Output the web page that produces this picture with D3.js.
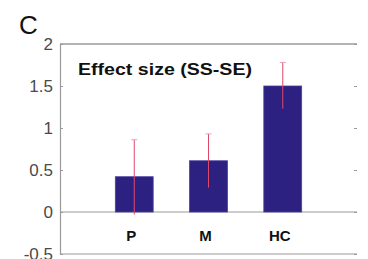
<!DOCTYPE html>
<html>
<head>
<meta charset="utf-8">
<script src="https://cdn.jsdelivr.net/npm/d3@7"></script>
<style>
  body { margin: 0; background: #fff; }
  svg { display: block; }
</style>
</head>
<body>
<script>
// data
const groups = ['P', 'M', 'HC'];
const effect = [0.42, 0.61, 1.50];
const errLow = [-0.03, 0.29, 1.23];
const errHigh = [0.86, 0.93, 1.78];
const yTicks = [-0.5, 0, 0.5, 1, 1.5, 2];

const w = 368;
const h = 259;
const padL = 60, padR = 357, padT = 44, padB = 254;

const svg = d3.select('body')
  .append('svg')
  .attr('width', w)
  .attr('height', h)
  .style('font-family', 'Arial, "Liberation Sans", sans-serif');

const xScale = d3.scaleLinear().domain([0, 4]).range([padL, padR]);
const yScale = d3.scaleLinear().domain([-0.5, 2]).range([padB, padT]);
const barW = xScale(0.51) - xScale(0);

// panel letter
svg.append('text')
  .attr('x', 19)
  .attr('y', 34)
  .attr('font-size', 26)
  .attr('fill', '#111')
  .text('C');

// frame: top and bottom lines
const axisCol = '#9a9a9a';
svg.append('line')
  .attr('x1', padL).attr('x2', padR)
  .attr('y1', padT).attr('y2', padT)
  .attr('stroke', axisCol).attr('stroke-width', 1.5);
svg.append('line')
  .attr('x1', padL).attr('x2', padR)
  .attr('y1', padB).attr('y2', padB)
  .attr('stroke', axisCol).attr('stroke-width', 1.2);

// left axis
svg.append('g')
  .attr('transform', 'translate(' + padL + ',0)')
  .call(d3.axisLeft(yScale).tickValues(yTicks).tickSize(-3).tickPadding(7)
    .tickFormat(d => String(d)))
  .call(g => g.select('.domain').attr('stroke', axisCol).attr('stroke-width', 1.2))
  .call(g => g.selectAll('.tick line').attr('stroke', axisCol))
  .call(g => g.selectAll('.tick text').attr('font-size', 17).attr('fill', '#4a4a4a')
    .attr('font-family', 'Arial, "Liberation Sans", sans-serif'));

// right side ticks only
svg.append('g')
  .attr('transform', 'translate(' + padR + ',0)')
  .call(d3.axisRight(yScale).tickValues(yTicks).tickSize(-3).tickFormat(''))
  .call(g => g.select('.domain').remove())
  .call(g => g.selectAll('.tick line').attr('stroke', axisCol));

// zero line
svg.append('line')
  .attr('x1', padL).attr('x2', padR)
  .attr('y1', yScale(0)).attr('y2', yScale(0))
  .attr('stroke', axisCol).attr('stroke-width', 1.2);

// bars
svg.selectAll('.bar')
  .data(effect)
  .enter().append('rect')
  .attr('class', 'bar')
  .attr('x', (d, i) => xScale(i + 1) - barW / 2)
  .attr('y', d => yScale(d))
  .attr('width', barW)
  .attr('height', d => yScale(0) - yScale(d))
  .attr('fill', '#2c2181')
  .attr('stroke', '#4a40a0')
  .attr('stroke-width', 0.8);

// error bars
svg.selectAll('.err')
  .data(groups)
  .enter().append('line')
  .attr('class', 'err')
  .attr('x1', (d, i) => xScale(i + 1))
  .attr('x2', (d, i) => xScale(i + 1))
  .attr('y1', (d, i) => yScale(errLow[i]))
  .attr('y2', (d, i) => yScale(errHigh[i]))
  .attr('stroke', '#e0486a')
  .attr('stroke-width', 1);

svg.selectAll('.cap')
  .data(groups)
  .enter().append('line')
  .attr('class', 'cap')
  .attr('x1', (d, i) => xScale(i + 1) - 3)
  .attr('x2', (d, i) => xScale(i + 1) + 3)
  .attr('y1', (d, i) => yScale(errHigh[i]))
  .attr('y2', (d, i) => yScale(errHigh[i]))
  .attr('stroke', '#e8a0b0')
  .attr('stroke-width', 1);

// group labels
svg.selectAll('.glabel')
  .data(groups)
  .enter().append('text')
  .attr('class', 'glabel')
  .attr('x', (d, i) => xScale(i + 1) - 3)
  .attr('y', 241)
  .attr('text-anchor', 'middle')
  .attr('font-size', 15)
  .attr('font-weight', 'bold')
  .attr('fill', '#111')
  .text(d => d);

// title inside plot
svg.append('text')
  .attr('x', 78)
  .attr('y', 75)
  .attr('font-size', 17)
  .attr('font-weight', 'bold')
  .attr('textLength', 174)
  .attr('lengthAdjust', 'spacingAndGlyphs')
  .attr('fill', '#111')
  .text('Effect size (SS-SE)');
</script>
</body>
</html>
